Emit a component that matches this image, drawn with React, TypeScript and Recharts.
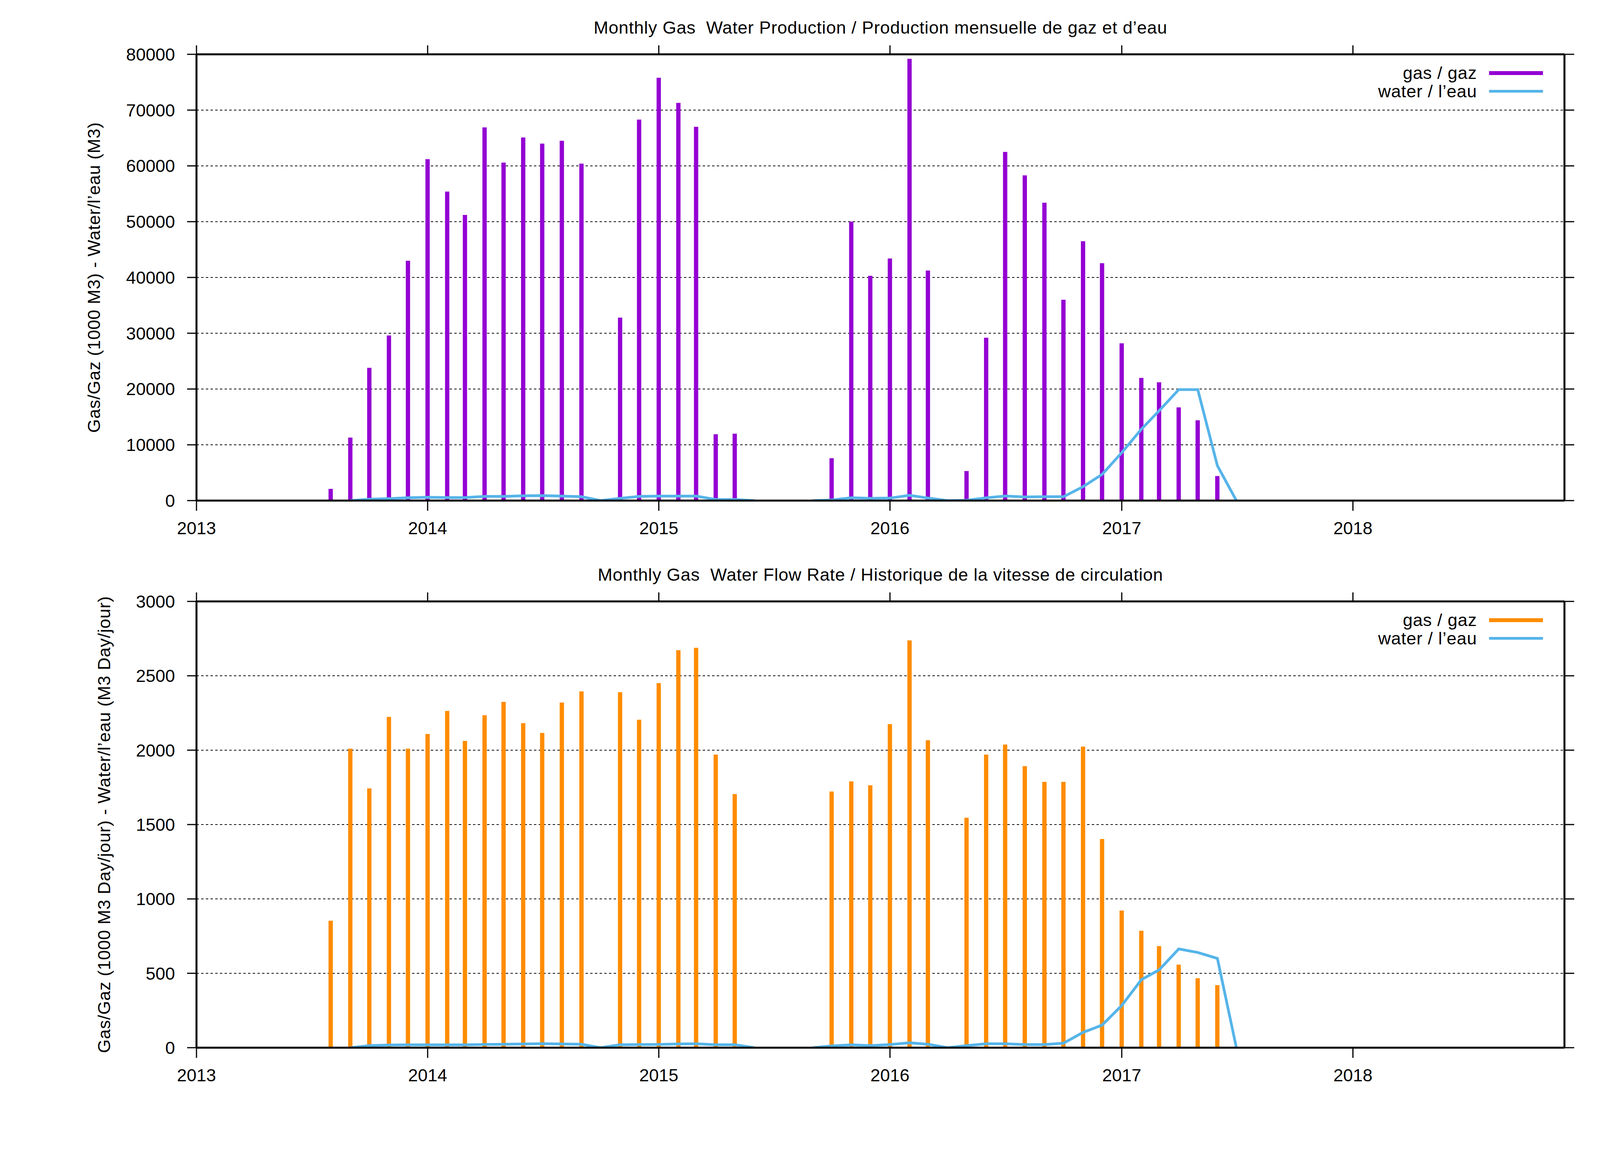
import React from 'react';
import {
  ComposedChart,
  Bar,
  Line,
  XAxis,
  YAxis,
  CartesianGrid,
  Legend,
  Label,
} from 'recharts';

// ---------- data ----------
const months = [
  '2013-08', '2013-09', '2013-10', '2013-11', '2013-12',
  '2014-01', '2014-02', '2014-03', '2014-04', '2014-05', '2014-06',
  '2014-07', '2014-08', '2014-09', '2014-10', '2014-11', '2014-12',
  '2015-01', '2015-02', '2015-03', '2015-04', '2015-05', '2015-06',
  '2015-07', '2015-08', '2015-09', '2015-10', '2015-11', '2015-12',
  '2016-01', '2016-02', '2016-03', '2016-04', '2016-05', '2016-06',
  '2016-07', '2016-08', '2016-09', '2016-10', '2016-11', '2016-12',
  '2017-01', '2017-02', '2017-03', '2017-04', '2017-05', '2017-06',
  '2017-07',
];

const gasProduction = [
  2100, 11300, 23800, 29600, 43000,
  61200, 55400, 51200, 66900, 60600, 65100,
  64000, 64500, 60400, null, 32800, 68300,
  75800, 71300, 67000, 11900, 12000, null,
  null, null, null, 7600, 50000, 40300,
  43400, 79200, 41250, null, 5300, 29200,
  62500, 58300, 53400, 36000, 46500, 42560,
  28200, 22000, 21200, 16700, 14400, 4400,
  null,
];

const waterProduction = [
  null, 0, 250, 350, 500,
  600, 550, 550, 750, 750, 850,
  900, 800, 700, 0, 400, 750,
  800, 800, 800, 200, 200, 0,
  null, null, 0, 100, 500, 400,
  450, 950, 450, 0, 50, 500,
  820, 650, 700, 700, 2500, 4700,
  8600, 12800, 16100, 19900, 19900, 6250,
  0,
];

const gasRate = [
  854, 2010, 1743, 2224, 2010,
  2109, 2264, 2062, 2235, 2325, 2182,
  2116, 2320, 2395, null, 2390, 2205,
  2451, 2672, 2688, 1970, 1705, null,
  null, null, null, 1722, 1790, 1764,
  2175, 2738, 2067, null, 1546, 1970,
  2038, 1893, 1787, 1787, 2024, 1403,
  922, 786, 683, 558, 467, 420,
  null,
];

const waterRate = [
  null, 0, 14, 18, 19,
  19, 19, 19, 22, 23, 25,
  27, 25, 23, 0, 20, 21,
  22, 25, 26, 20, 20, 0,
  null, null, 0, 12, 19, 14,
  21, 33, 23, 0, 14, 26,
  26, 21, 21, 30, 103, 152,
  284, 457, 523, 664, 640, 600,
  0,
];

const yearLabels = ['2013', '2014', '2015', '2016', '2017', '2018'];
const productionTicks = [0, 10000, 20000, 30000, 40000, 50000, 60000, 70000, 80000];
const rateTicks = [0, 500, 1000, 1500, 2000, 2500, 3000];

// ---------- helpers ----------
const FONT = '"Liberation Sans", Arial, Helvetica, sans-serif';
const SPACING = '0.8px';
const toTs = (m: string) => {
  const [y, mo] = m.split('-').map(Number);
  return Date.UTC(y, mo - 1, 1);
};
const yearTicks = yearLabels.map((y) => Date.UTC(Number(y), 0, 1));
const xDomain = [Date.UTC(2013, 0, 1), Date.UTC(2018, 11, 1)];

const W = 4114;
const H = 1400;
const PLOT_LEFT = 503;
const PLOT_RIGHT = 4005;
const PLOT_TOP = 139;
const PLOT_BOTTOM = 1281;

type PanelProps = {
  title: string;
  yLabel: string;
  gas: (number | null)[];
  water: (number | null)[];
  gasColor: string;
  yTicks: number[];
  labelBaselineX: number;
};

const waterColor = '#56b4e9';

function LegendBox({ gasColor }: { gasColor: string }) {
  const rows = [
    { name: 'gas / gaz', color: gasColor, thick: 10 },
    { name: 'water / l\u2019eau', color: waterColor, thick: 7 },
  ];
  return (
    <div style={{ fontFamily: FONT, fontSize: 45, color: '#000', letterSpacing: SPACING }}>
      {rows.map((r) => (
        <div
          key={r.name}
          style={{ display: 'flex', alignItems: 'center', height: 47 }}
        >
          <div style={{ width: 481, textAlign: 'right', lineHeight: '47px', whiteSpace: 'nowrap' }}>
            {r.name}
          </div>
          <div style={{ width: 31 }} />
          <div style={{ width: 138, height: r.thick, background: r.color }} />
        </div>
      ))}
    </div>
  );
}

function Panel({ title, yLabel, gas, water, gasColor, yTicks, labelBaselineX }: PanelProps) {
  const rows = months.map((m, i) => ({ t: toTs(m), gas: gas[i], water: water[i] }));
  const yMax = yTicks[yTicks.length - 1];
  const cy = (PLOT_TOP + PLOT_BOTTOM) / 2;
  const tickStyle = { fill: '#000', fontSize: 45, fontFamily: FONT };
  return (
    <div style={{ position: 'relative', width: W, height: H }}>
      <div
        style={{
          position: 'absolute',
          left: PLOT_LEFT,
          width: PLOT_RIGHT - PLOT_LEFT,
          top: 45,
          textAlign: 'center',
          fontFamily: FONT,
          fontSize: 45,
          lineHeight: '52px',
          letterSpacing: SPACING,
          color: '#000',
          whiteSpace: 'pre',
          zIndex: 2,
        }}
      >
        {title}
      </div>
      <ComposedChart
        width={W}
        height={H}
        data={rows}
        margin={{ top: 109, right: 0, bottom: 0, left: 0 }}
      >
        <CartesianGrid
          vertical={false}
          stroke="#000"
          strokeWidth={2}
          strokeDasharray="6 6"
        />
        <XAxis
          dataKey="t"
          type="number"
          scale="linear"
          domain={xDomain}
          allowDataOverflow
          ticks={yearTicks}
          tickFormatter={(v: number) => String(new Date(v).getUTCFullYear())}
          height={119}
          tickSize={26}
          tickMargin={28}
          tick={tickStyle}
          axisLine={{ stroke: '#000', strokeWidth: 5 }}
          tickLine={{ stroke: '#000', strokeWidth: 3 }}
        />
        <XAxis
          xAxisId="top"
          orientation="top"
          dataKey="t"
          type="number"
          scale="linear"
          domain={xDomain}
          allowDataOverflow
          ticks={yearTicks}
          tickFormatter={() => ''}
          height={30}
          tickSize={23}
          axisLine={{ stroke: '#000', strokeWidth: 5 }}
          tickLine={{ stroke: '#000', strokeWidth: 3 }}
        />
        <YAxis
          type="number"
          domain={[0, yMax]}
          allowDataOverflow
          ticks={yTicks}
          width={PLOT_LEFT}
          tickSize={24}
          tickMargin={31}
          tick={tickStyle}
          axisLine={{ stroke: '#000', strokeWidth: 5 }}
          tickLine={{ stroke: '#000', strokeWidth: 3 }}
          interval={0}
        >
          <Label
            content={() => (
              <text
                x={labelBaselineX}
                y={cy}
                transform={`rotate(-90 ${labelBaselineX} ${cy})`}
                textAnchor="middle"
                fontFamily={FONT}
                fontSize={45}
                fill="#000"
                style={{ letterSpacing: SPACING }}
              >
                {yLabel}
              </text>
            )}
          />
        </YAxis>
        <YAxis
          yAxisId="r"
          orientation="right"
          type="number"
          domain={[0, yMax]}
          allowDataOverflow
          ticks={yTicks}
          width={W - PLOT_RIGHT}
          tickSize={25}
          tickFormatter={() => ''}
          axisLine={{ stroke: '#000', strokeWidth: 5 }}
          tickLine={{ stroke: '#000', strokeWidth: 3 }}
          interval={0}
        />
        <Bar
          dataKey="gas"
          name="gas / gaz"
          fill={gasColor}
          barSize={11}
          isAnimationActive={false}
        />
        <Line
          dataKey="water"
          name="water / l'eau"
          type="linear"
          stroke={waterColor}
          strokeWidth={7}
          dot={false}
          activeDot={false}
          connectNulls={false}
          isAnimationActive={false}
        />
        <Legend
          layout="horizontal"
          verticalAlign="middle"
          align="center"
          wrapperStyle={{ left: 3300, top: 163, width: 680, height: 94 }}
          content={() => <LegendBox gasColor={gasColor} />}
        />
      </ComposedChart>
    </div>
  );
}

export default function App() {
  return (
    <div
      style={{
        position: 'absolute',
        left: 0,
        top: 0,
        width: W,
        height: 2994,
        background: '#fff',
      }}
    >
      <Panel
        title={'Monthly Gas  Water Production / Production mensuelle de gaz et d\u2019eau'}
        yLabel={'Gas/Gaz (1000 M3) - Water/l\u2019eau (M3)'}
        gas={gasProduction}
        water={waterProduction}
        gasColor="#9400d3"
        yTicks={productionTicks}
        labelBaselineX={256}
      />
      <Panel
        title={'Monthly Gas  Water Flow Rate / Historique de la vitesse de circulation'}
        yLabel={'Gas/Gaz (1000 M3 Day/jour) - Water/l\u2019eau (M3 Day/jour)'}
        gas={gasRate}
        water={waterRate}
        gasColor="#ff8c00"
        yTicks={rateTicks}
        labelBaselineX={282}
      />
    </div>
  );
}
